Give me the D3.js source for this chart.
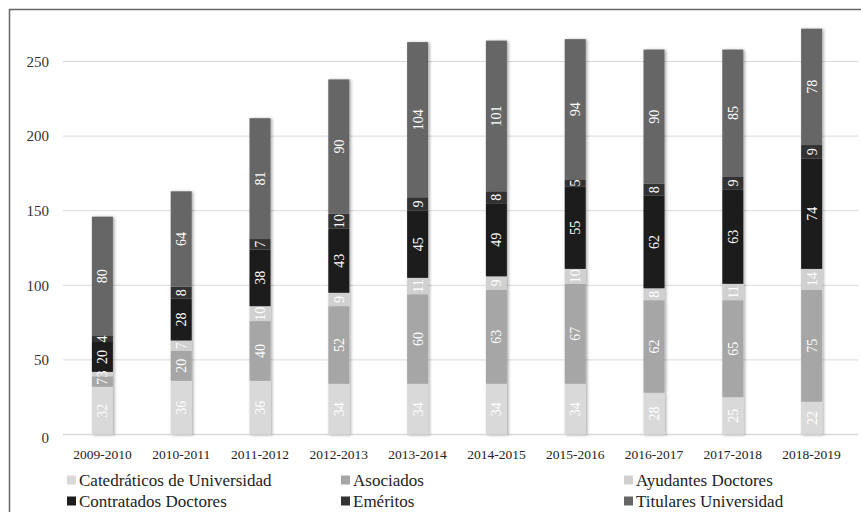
<!DOCTYPE html>
<html>
<head>
<meta charset="utf-8">
<script src="https://cdn.jsdelivr.net/npm/d3@7"></script>
<style>
  html, body { margin: 0; padding: 0; background: #fff; }
  svg { display: block; }
</style>
</head>
<body>
<svg id="chart" width="861" height="512"></svg>
<script>
// Academic years (x categories)
const years = ["2009-2010", "2010-2011", "2011-2012", "2012-2013", "2013-2014",
               "2014-2015", "2015-2016", "2016-2017", "2017-2018", "2018-2019"];

// Staff counts per category, stacked bottom to top in this order
const catedraticos = [32, 36, 36, 34, 34, 34, 34, 28, 25, 22];
const asociados    = [7, 20, 40, 52, 60, 63, 67, 62, 65, 75];
const ayudantes    = [3, 7, 10, 9, 11, 9, 10, 8, 11, 14];
const contratados  = [20, 28, 38, 43, 45, 49, 55, 62, 63, 74];
const emeritos     = [4, 8, 7, 10, 9, 8, 5, 8, 9, 9];
const titulares    = [80, 64, 81, 90, 104, 101, 94, 90, 85, 78];

const seriesNames = ["Catedráticos de Universidad", "Asociados", "Ayudantes Doctores",
                     "Contratados Doctores", "Eméritos", "Titulares Universidad"];
const seriesValues = [catedraticos, asociados, ayudantes, contratados, emeritos, titulares];
const seriesColors = ["#d9d9d9", "#a6a6a6", "#d0d0d0", "#1f1c1d", "#333333", "#666666"];

const yTicks = [0, 50, 100, 150, 200, 250];

const svg = d3.select("#chart");
const serif = "'Liberation Serif', 'Times New Roman', serif";

// Outer frame (top and left edges visible)
svg.append("path")
  .attr("d", "M9.5,512 L9.5,9.5 L861,9.5")
  .attr("fill", "none")
  .attr("stroke", "#666")
  .attr("stroke-width", 1.5);

const x = d3.scaleBand().domain(years).range([63, 851]);
const y = d3.scaleLinear().domain([0, 250]).range([434.5, 61.5]);
const barW = 21;

// Drop shadow for the bars
const defs = svg.append("defs");
const f = defs.append("filter").attr("id", "shadow")
  .attr("x", "-50%").attr("y", "-10%").attr("width", "200%").attr("height", "120%");
f.append("feDropShadow")
  .attr("dx", 1.5).attr("dy", 0.5).attr("stdDeviation", 1.6)
  .attr("flood-color", "#000").attr("flood-opacity", 0.35);

// Gridlines and y tick labels
const grid = svg.append("g");
grid.selectAll("line").data(yTicks).join("line")
  .attr("x1", 63).attr("x2", 858)
  .attr("y1", d => y(d)).attr("y2", d => y(d))
  .attr("stroke", "#d9d9d9")
  .attr("stroke-width", d => d === 0 ? 1.5 : 1);
grid.selectAll("text").data(yTicks).join("text")
  .attr("x", 49).attr("y", d => y(d) + (d === 0 ? 3 : 0))
  .attr("dy", "0.35em")
  .attr("text-anchor", "end")
  .attr("font-family", serif).attr("font-size", 15)
  .attr("fill", "#333")
  .text(d => d);

// Stack layout
const table = years.map((yr, i) => {
  const row = { year: yr };
  seriesNames.forEach((n, k) => row[n] = seriesValues[k][i]);
  return row;
});
const stacked = d3.stack().keys(seriesNames)(table);

// Bars, grouped per year so the shadow wraps the whole column
const cols = svg.append("g").selectAll("g.col").data(years).join("g")
  .attr("class", "col")
  .attr("filter", "url(#shadow)");
cols.each(function(yr, i) {
  const g = d3.select(this);
  stacked.forEach((s, k) => {
    const d = s[i];
    g.append("rect")
      .attr("x", x(yr) + x.bandwidth() / 2 - barW / 2)
      .attr("width", barW)
      .attr("y", y(d[1]))
      .attr("height", y(d[0]) - y(d[1]))
      .attr("fill", seriesColors[k]);
  });
});

// Value labels, rotated inside each segment
const labels = svg.append("g");
stacked.forEach((s, k) => {
  s.forEach((d, i) => {
    const cx = x(years[i]) + x.bandwidth() / 2;
    const cy = (y(d[0]) + y(d[1])) / 2;
    labels.append("text")
      .attr("transform", `translate(${cx},${cy}) rotate(-90)`)
      .attr("text-anchor", "middle")
      .attr("dy", "0.35em")
      .attr("font-family", serif).attr("font-size", 14)
      .attr("fill", "#fff")
      .text(d[1] - d[0]);
  });
});

// Category labels on the x axis
svg.append("g").selectAll("text").data(years).join("text")
  .attr("x", d => x(d) + x.bandwidth() / 2)
  .attr("y", 459)
  .attr("text-anchor", "middle")
  .attr("font-family", serif).attr("font-size", 13.5)
  .attr("fill", "#222")
  .text(d => d);

// Legend: two rows of three
const legCols = [67, 341, 624];
const legRows = [485.5, 506.5];
const legend = svg.append("g").selectAll("g").data(seriesNames).join("g")
  .attr("transform", (d, i) => `translate(${legCols[i % 3]},${legRows[Math.floor(i / 3)]})`);
legend.append("rect")
  .attr("x", 0).attr("y", -10).attr("width", 9).attr("height", 9)
  .attr("fill", (d, i) => seriesColors[i]);
legend.append("text")
  .attr("x", 12).attr("y", 0)
  .attr("font-family", serif).attr("font-size", 17)
  .attr("fill", "#222")
  .text(d => d);
</script>
</body>
</html>
